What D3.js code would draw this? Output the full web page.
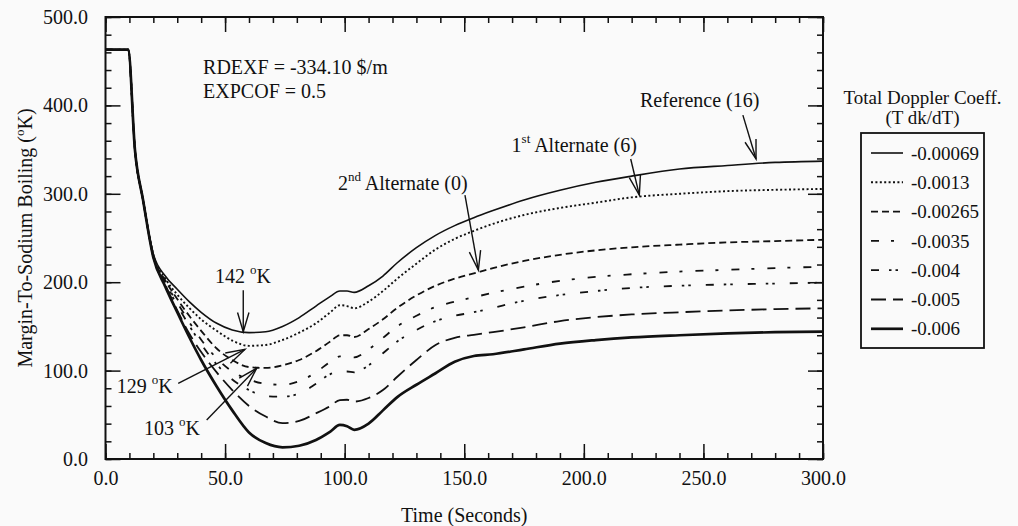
<!DOCTYPE html>
<html>
<head>
<meta charset="utf-8">
<script src="https://cdn.jsdelivr.net/npm/d3@7"></script>
<style>
  body { margin: 0; background: #fafafa; }
  svg { display: block; background: #fafafa; font-family: "Liberation Serif", "Times New Roman", serif; }
</style>
</head>
<body>
<svg id="chart"></svg>
<script>
// time (s) shared by every curve
const time = [0, 9.5, 12.3, 15.7, 20, 25, 30, 35, 40, 46.5, 53, 60, 67, 74, 81, 88, 94, 98, 101, 104,
              110, 116, 122, 130, 138, 146, 154, 162, 175, 190, 205, 220, 240, 260, 280, 300];

// margin-to-sodium boiling (K), one array per Doppler coefficient
const c00069 = [463, 463, 350, 293, 232, 207, 192, 178, 166, 153.5, 146, 143, 144, 150, 160, 173, 184, 190, 190, 188.5,
                196, 207, 222, 239, 253, 264, 273, 281, 293, 304, 313, 320, 328, 332, 335.5, 337];
const c0013  = [463, 463, 350, 293, 231, 204, 186, 171, 158, 145, 134, 128, 129, 134.6, 143, 153.5, 166, 174, 173, 170.5,
                178, 190, 204, 221, 237, 249, 258, 266, 276, 284, 290, 296, 300, 303, 304.5, 305.5];
const c00265 = [463, 463, 350, 293, 230, 202, 181, 162, 145, 125, 112, 104, 103, 106, 112, 122, 133, 140, 140, 138,
                147, 158, 171, 185, 196, 204, 210, 216, 224, 231, 236, 239.5, 242.5, 245, 246.5, 248];
const c0035  = [463, 463, 350, 293, 229.5, 200, 177, 155, 135, 114, 99, 90, 85, 84, 88, 98, 110, 116, 116, 115,
                124, 137, 150, 162, 172, 178, 183, 188, 195, 201.5, 206, 209, 212, 214, 216, 217.5];
const c004   = [463, 463, 350, 293, 229, 199, 174, 151, 130, 107, 90, 78, 71, 70.5, 74, 85, 96, 99, 99, 98,
                106, 119.6, 133, 146, 156, 162, 166, 171, 179, 185.5, 190, 193.5, 196, 197.5, 198.5, 199.5];
const c005   = [463, 463, 350, 293, 228.5, 197, 168, 142, 121, 98, 78, 60, 48, 40.5, 43, 51.7, 60, 66.7, 67, 65,
                69, 78, 93, 112, 129, 137, 140.5, 143.5, 149, 156, 160.5, 163.5, 166, 168, 169.5, 170.5];
const c006   = [463, 463, 350, 293, 228, 195, 166, 138, 112, 82, 55, 30, 18, 13.2, 15, 21.5, 31, 38.5, 37, 33,
                40, 55, 70, 84, 97, 110, 116.5, 118.5, 124, 130.5, 134.5, 137.5, 140, 142, 143.5, 144];

const seriesNames = ["-0.00069", "-0.0013", "-0.00265", "-0.0035", "-0.004", "-0.005", "-0.006"];
const seriesValues = [c00069, c0013, c00265, c0035, c004, c005, c006];
const seriesDash = ["none", "2,2.4", "7,4", "8,12,3,13", "8,10,2.5,4,2.5,15", "15,7", "none"];
const seriesWidth = [1.6, 1.9, 1.8, 1.8, 1.8, 1.8, 2.7];

const xTicks = [0, 50, 100, 150, 200, 250, 300];
const yTicks = [0, 100, 200, 300, 400, 500];

// arrows: [t0, v0, t1, v1] (tip at t1, v1)
const arrows = [
  [57.6, 191, 57.6, 144],
  [30.4, 85.6, 58.3, 124],
  [42.3, 44, 63.2, 102.6],
  [150.3, 298.6, 155.9, 213.8],
  [219.6, 339.4, 223.2, 298.6],
  [266.5, 389, 272, 339.4]
];
// labels: [t, v, text, superscript, tail]
const labels = [
  [45.8, 199, "142 ", "o", "K"],
  [4.7, 74.7, "129 ", "o", "K"],
  [16.1, 27, "103 ", "o", "K"],
  [97.2, 304.3, "2", "nd", " Alternate (0)"],
  [169.8, 347.6, "1", "st", " Alternate (6)"],
  [223.5, 398, "Reference (16)", "", ""]
];
const notes = [[40.8, 435.5, "RDEXF = -334.10 $/m"], [40.8, 408.4, "EXPCOF = 0.5"]];

const W = 1018, H = 526;
const svg = d3.select("#chart").attr("width", W).attr("height", H);
const ink = "#111";

const xScale = d3.scaleLinear().domain([0, 300]).range([105.5, 823]);
const yScale = d3.scaleLinear().domain([0, 500]).range([459, 17]);

const fmt = d3.format(".1f");
const minorX = d3.range(0, 301, 10);
const minorY = d3.range(0, 501, 20);

// frame first, axes on top of it
svg.append("rect")
  .attr("x", xScale(0)).attr("y", yScale(500))
  .attr("width", xScale(300) - xScale(0)).attr("height", yScale(0) - yScale(500))
  .attr("fill", "none").attr("stroke", ink).attr("stroke-width", 2);

function drawAxis(axis, tx, ty) {
  const g = svg.append("g").attr("transform", `translate(${tx},${ty})`).call(axis);
  g.select(".domain").attr("stroke", "none");
  g.selectAll(".tick line").attr("stroke", ink).attr("stroke-width", 1.5);
  g.selectAll(".tick text").attr("fill", ink)
    .attr("font-family", "Liberation Serif").attr("font-size", 20);
  return g;
}

// labelled bottom/left, minor ticks every 10 s / 20 K, mirrored top/right
drawAxis(d3.axisBottom(xScale).tickValues(xTicks).tickFormat(fmt).tickSize(-15).tickPadding(12), 0, yScale(0));
drawAxis(d3.axisLeft(yScale).tickValues(yTicks).tickFormat(fmt).tickSize(-15).tickPadding(17.5), xScale(0), 0);
drawAxis(d3.axisBottom(xScale).tickValues(minorX).tickFormat(() => "").tickSize(-6), 0, yScale(0));
drawAxis(d3.axisLeft(yScale).tickValues(minorY).tickFormat(() => "").tickSize(-6), xScale(0), 0);
drawAxis(d3.axisTop(xScale).tickValues(xTicks).tickFormat(() => "").tickSize(-15), 0, yScale(500));
drawAxis(d3.axisTop(xScale).tickValues(minorX).tickFormat(() => "").tickSize(-6), 0, yScale(500));
drawAxis(d3.axisRight(yScale).tickValues(yTicks).tickFormat(() => "").tickSize(-15), xScale(300), 0);
drawAxis(d3.axisRight(yScale).tickValues(minorY).tickFormat(() => "").tickSize(-6), xScale(300), 0);

// curves
const curveGen = d3.line()
  .x(d => xScale(d[0]))
  .y(d => yScale(d[1]))
  .curve(d3.curveMonotoneX);
seriesValues.forEach((vals, i) => {
  svg.append("path")
    .attr("d", curveGen(time.map((t, j) => [t, vals[j]])))
    .attr("fill", "none")
    .attr("stroke", ink)
    .attr("stroke-width", seriesWidth[i])
    .attr("stroke-dasharray", seriesDash[i])
    .attr("stroke-linejoin", "round");
});

// axis titles
svg.append("text")
  .attr("x", (xScale(0) + xScale(300)) / 2).attr("y", 522)
  .attr("text-anchor", "middle").attr("font-size", 20).attr("fill", ink)
  .text("Time (Seconds)");

const yt = svg.append("text")
  .attr("transform", `translate(32,${(yScale(0) + yScale(500)) / 2}) rotate(-90)`)
  .attr("text-anchor", "middle").attr("font-size", 20).attr("fill", ink);
yt.append("tspan").text("Margin-To-Sodium Boiling (");
yt.append("tspan").attr("font-size", 13).attr("dy", -8).text("o");
yt.append("tspan").attr("dy", 8).text("K)");

// notes
notes.forEach(n => {
  svg.append("text").attr("x", xScale(n[0])).attr("y", yScale(n[1]))
    .attr("font-size", 20).attr("fill", ink).text(n[2]);
});

// labels with superscripts
labels.forEach(l => {
  const t = svg.append("text").attr("x", xScale(l[0])).attr("y", yScale(l[1]))
    .attr("font-size", 20).attr("fill", ink);
  t.append("tspan").text(l[2]);
  if (l[3]) {
    t.append("tspan").attr("font-size", 13).attr("dy", -9).text(l[3]);
    t.append("tspan").attr("dy", 9).text(l[4]);
  }
});

// arrows with open V heads
arrows.forEach(a => {
  const x0 = xScale(a[0]), y0 = yScale(a[1]), x1 = xScale(a[2]), y1 = yScale(a[3]);
  const ang = Math.atan2(y1 - y0, x1 - x0);
  const len = 20, spread = 0.29;
  const g = svg.append("g").attr("stroke", ink).attr("stroke-width", 1.4).attr("fill", "none");
  g.append("line").attr("x1", x0).attr("y1", y0).attr("x2", x1).attr("y2", y1);
  g.append("path").attr("d",
    `M${x1 - len * Math.cos(ang - spread)},${y1 - len * Math.sin(ang - spread)}` +
    `L${x1},${y1}` +
    `L${x1 - len * Math.cos(ang + spread)},${y1 - len * Math.sin(ang + spread)}`);
});

// legend
const lgX = 861, lgY = 133, lgW = 123, lgH = 215, rowH = 29.3;
svg.append("text").attr("x", lgX + lgW / 2).attr("y", 104)
  .attr("text-anchor", "middle").attr("font-size", 19).attr("fill", ink)
  .text("Total Doppler Coeff.");
svg.append("text").attr("x", lgX + lgW / 2).attr("y", 124)
  .attr("text-anchor", "middle").attr("font-size", 19).attr("fill", ink)
  .text("(T dk/dT)");
svg.append("rect").attr("x", lgX).attr("y", lgY).attr("width", lgW).attr("height", lgH)
  .attr("fill", "none").attr("stroke", ink).attr("stroke-width", 1.8);

seriesNames.forEach((name, i) => {
  const cy = lgY + 20 + i * rowH;
  svg.append("line")
    .attr("x1", lgX + 10).attr("x2", lgX + 42).attr("y1", cy).attr("y2", cy)
    .attr("stroke", ink).attr("stroke-width", seriesWidth[i])
    .attr("stroke-dasharray", seriesDash[i]);
  svg.append("text").attr("x", lgX + 50).attr("y", cy).attr("dy", "0.35em")
    .attr("font-size", 19).attr("fill", ink).text(name);
});
</script>
</body>
</html>
